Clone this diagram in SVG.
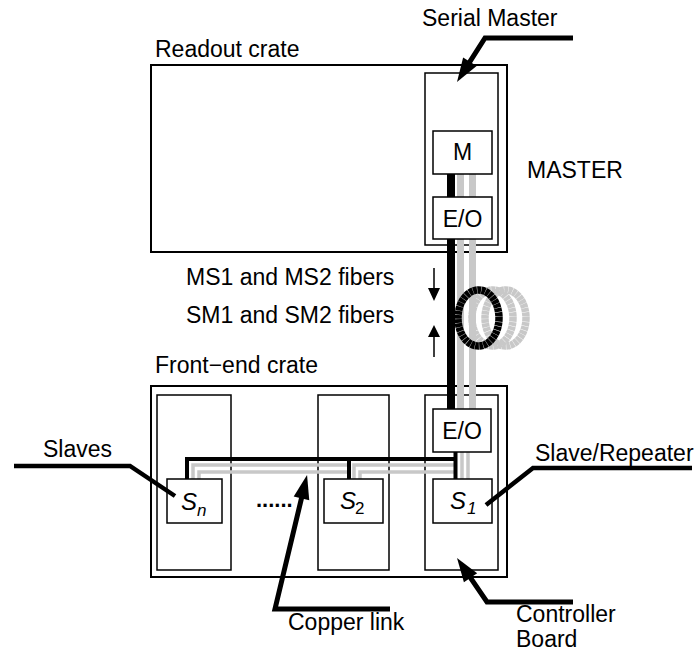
<svg xmlns="http://www.w3.org/2000/svg" width="696" height="652" viewBox="0 0 696 652">
<style>
  text { font-family: "Liberation Sans", Arial, sans-serif; font-size: 23px; fill: #000; }
  .mid { text-anchor: middle; }
  .crate { fill: none; stroke: #000; stroke-width: 2; }
  .board { fill: #fff; stroke: #000; stroke-width: 1.5; }
  .box { fill: #fff; stroke: #000; stroke-width: 1.5; }
  .fib-k { stroke: #000; stroke-width: 8; fill: none; }
  .fib-g { stroke: #c8c8c8; stroke-width: 7; fill: none; }
  .coil-k { stroke: #000; stroke-width: 7.5; fill: none; stroke-dasharray: 3.8 0.4; }
  .coil-g { stroke: #c8c8c8; stroke-width: 7.5; fill: none; stroke-dasharray: 3.8 0.4; }
  .bus-k { stroke: #000; stroke-width: 4; fill: none; }
  .bus-g { stroke: #c8c8c8; stroke-width: 3.5; fill: none; }
  .ptr { stroke: #000; stroke-width: 5; fill: none; stroke-linejoin: miter; }
  .lead { stroke: #000; stroke-width: 4.5; fill: none; }
  .thin { stroke: #000; stroke-width: 1.5; fill: none; }
  .s { font-style: italic; font-size: 24px; }
  .sub { font-size: 17px; }
</style>
<defs>
  <marker id="head" markerUnits="userSpaceOnUse" markerWidth="24" markerHeight="16" refX="10" refY="8" orient="auto" overflow="visible">
    <path d="M0,0 L24,8 L0,16 z" fill="#000"/>
  </marker>
</defs>

<g id="readout-crate">
  <rect class="crate" x="151" y="65" width="356" height="187"/>
  <text x="155" y="57">Readout crate</text>
  <rect class="board" x="425" y="73" width="73" height="172"/>
</g>

<g id="frontend-crate">
  <rect class="crate" x="151" y="386" width="356" height="191"/>
  <text x="155" y="373">Front−end crate</text>
  <rect class="board" x="157" y="395" width="74" height="175"/>
  <rect class="board" x="318" y="395" width="71" height="175"/>
  <rect class="board" x="425" y="395" width="73" height="175"/>
</g>

<g id="connectors">
  <!-- optical fibers -->
  <ellipse class="coil-g" cx="505.5" cy="318" rx="20.5" ry="28"/>
  <ellipse class="coil-g" cx="492.5" cy="318" rx="20.5" ry="28"/>
  <path class="fib-g" d="M460.5,174 V197 M460.5,239 V409 M472.5,174 V197 M472.5,239 V409"/>
  <path class="fib-k" d="M451,174 V197 M451,239 V409"/>
  <ellipse class="coil-k" cx="478.5" cy="318" rx="20.5" ry="28"/>
  <!-- copper link -->
  <path class="bus-g" d="M193,479 V465 H349 M354,479 V465 H456 M199,479 V472 H349 M360,479 V472 H456 M462,452 V479 M468,452 V479"/>
  <path class="bus-k" d="M187,479 V459 H455.5 M455.5,452 V479 M349,459 V479"/>
</g>

<g id="master-M">
  <rect class="box" x="433" y="131" width="59" height="43"/>
  <text class="mid" x="462.5" y="160">M</text>
</g>
<g id="master-EO">
  <rect class="box" x="433" y="197" width="59" height="42"/>
  <text class="mid" x="462.5" y="227">E/O</text>
</g>
<g id="slave-EO">
  <rect class="box" x="433" y="409" width="58" height="43"/>
  <text class="mid" x="462" y="439">E/O</text>
</g>
<g id="slave-Sn">
  <rect class="box" x="167" y="479" width="55" height="44"/>
  <text class="s" x="181" y="510">S<tspan class="sub" x="197" y="516">n</tspan></text>
</g>
<g id="slave-S2">
  <rect class="box" x="324" y="479" width="59" height="44"/>
  <text x="340" y="509"><tspan class="s">S</tspan><tspan class="sub" x="355" y="514">2</tspan></text>
</g>
<g id="slave-S1">
  <rect class="box" x="433" y="479" width="59" height="44"/>
  <text class="s" x="450" y="509">S<tspan class="sub" x="467" y="514">1</tspan></text>
</g>

<g id="labels">
  <text x="422" y="26">Serial Master</text>
  <text x="527" y="178">MASTER</text>
  <text x="186" y="285">MS1 and MS2 fibers</text>
  <text x="186" y="323">SM1 and SM2 fibers</text>
  <text x="43" y="457">Slaves</text>
  <text x="535" y="461">Slave/Repeater</text>
  <text x="288" y="630">Copper link</text>
  <text x="516" y="622">Controller</text>
  <text x="516" y="647">Board</text>
  <text x="256" y="507" style="font-weight:bold;font-size:22px">......</text>
</g>

<g id="pointers">
  <path class="ptr" d="M573,38 L485,38 L464.5,70.2" marker-end="url(#head)"/>
  <path class="ptr" d="M573,602 L487,602 L464.9,569.6" marker-end="url(#head)"/>
  <path class="ptr" d="M390,609 L275,609 L303.8,488.6" marker-end="url(#head)"/>
  <path class="lead" d="M14,466 L130,466 L175,496"/>
  <path class="lead" d="M692,468 L533,468 L486,505"/>
  <path class="thin" d="M434,268 V290 M434,337 V357"/>
  <path d="M428,288 L440,288 L434,301 z M428,337 L440,337 L434,325 z" fill="#000"/>
</g>
</svg>
